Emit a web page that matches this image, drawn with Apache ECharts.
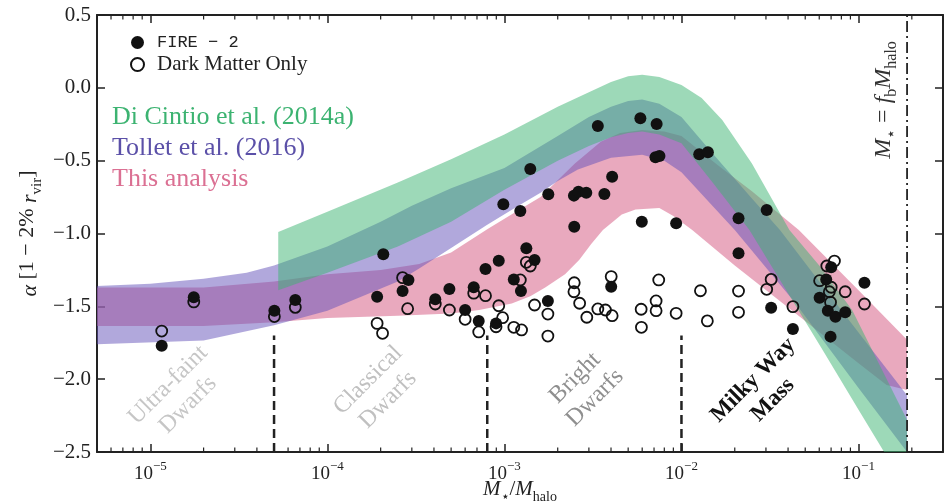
<!DOCTYPE html>
<html><head><meta charset="utf-8">
<script src="https://cdn.jsdelivr.net/npm/echarts@6.0.0/dist/echarts.min.js"></script>
<style>html,body{margin:0;padding:0;background:#fff}#c{width:949px;height:504px}</style>
</head><body><div id="c"></div>
<script>
// ---------- data ----------
const fire2 = [[1.16e-5,-1.77],[1.76e-5,-1.438],[5.02e-5,-1.53],[6.59e-5,-1.456],[2.07e-4,-1.143],[1.91e-4,-1.434],[2.87e-4,-1.319],[2.66e-4,-1.395],[4.07e-4,-1.452],[4.89e-4,-1.381],[6.0e-4,-1.525],[6.71e-4,-1.369],[7.82e-4,-1.244],[9.29e-4,-1.187],[7.16e-4,-1.60],[8.97e-4,-1.617],[1.33e-3,-1.102],[1.48e-3,-1.182],[1.13e-3,-1.315],[1.24e-3,-1.395],[1.76e-3,-1.463],[4.01e-3,-1.365],[9.86e-4,-0.80],[1.23e-3,-0.845],[1.40e-3,-0.557],[1.77e-3,-0.731],[2.47e-3,-0.74],[2.62e-3,-0.713],[2.90e-3,-0.72],[3.67e-3,-0.729],[4.06e-3,-0.61],[3.37e-3,-0.262],[5.86e-3,-0.209],[7.24e-3,-0.248],[7.13e-3,-0.477],[7.51e-3,-0.468],[2.48e-3,-0.953],[5.97e-3,-0.919],[9.33e-3,-0.93],[1.26e-2,-0.456],[1.41e-2,-0.443],[3.03e-2,-0.839],[2.10e-2,-0.896],[2.10e-2,-1.136],[3.21e-2,-1.509],[4.26e-2,-1.656],[7.01e-2,-1.232],[6.57e-2,-1.315],[0.108,-1.338],[6.03e-2,-1.441],[6.71e-2,-1.53],[7.41e-2,-1.571],[8.41e-2,-1.541],[6.95e-2,-1.708]];
const darkMatterOnly = [[1.16e-5,-1.67],[1.76e-5,-1.47],[5.02e-5,-1.57],[6.59e-5,-1.507],[1.91e-4,-1.617],[2.05e-4,-1.685],[2.66e-4,-1.303],[2.84e-4,-1.516],[4.07e-4,-1.484],[4.89e-4,-1.525],[6.0e-4,-1.589],[6.71e-4,-1.41],[7.82e-4,-1.427],[7.16e-4,-1.676],[8.97e-4,-1.64],[9.29e-4,-1.496],[9.77e-4,-1.578],[1.33e-3,-1.198],[1.40e-3,-1.223],[1.23e-3,-1.319],[1.13e-3,-1.644],[1.25e-3,-1.662],[1.48e-3,-1.491],[1.76e-3,-1.553],[1.76e-3,-1.704],[2.48e-3,-1.338],[2.47e-3,-1.40],[2.66e-3,-1.479],[2.92e-3,-1.575],[3.37e-3,-1.518],[3.72e-3,-1.525],[4.06e-3,-1.564],[4.01e-3,-1.296],[5.92e-3,-1.52],[5.94e-3,-1.644],[7.19e-3,-1.463],[7.19e-3,-1.53],[7.44e-3,-1.319],[9.33e-3,-1.548],[3.21e-2,-1.315],[3.03e-2,-1.383],[1.28e-2,-1.393],[2.10e-2,-1.395],[2.10e-2,-1.541],[1.40e-2,-1.60],[4.26e-2,-1.502],[6.62e-2,-1.223],[7.31e-2,-1.189],[6.03e-2,-1.324],[7.01e-2,-1.369],[6.84e-2,-1.40],[8.41e-2,-1.40],[0.108,-1.484],[6.95e-2,-1.472]];

const diCintioUpper = [[5.28e-5,-0.99],[1e-4,-0.85],[2.5e-4,-0.65],[5e-4,-0.49],[1e-3,-0.32],[2e-3,-0.13],[3e-3,-0.03],[4e-3,0.04],[5e-3,0.08],[6e-3,0.09],[7.5e-3,0.075],[1e-2,0.02],[1.3e-2,-0.07],[1.7e-2,-0.22],[2.5e-2,-0.52],[4.07e-2,-0.976],[6e-2,-1.22],[9.2e-2,-1.525],[0.188,-2.28]];
const diCintioLower = [[5.28e-5,-1.39],[1e-4,-1.27],[2.5e-4,-1.09],[5e-4,-0.92],[1e-3,-0.70],[2e-3,-0.50],[3e-3,-0.40],[4e-3,-0.34],[5e-3,-0.31],[6e-3,-0.30],[7.5e-3,-0.32],[1e-2,-0.38],[1.5e-2,-0.65],[2.42e-2,-0.976],[4e-2,-1.41],[6.27e-2,-1.80],[0.1,-2.21],[0.188,-2.76]];
const tolletUpper = [[5e-6,-1.36],[1e-5,-1.345],[2e-5,-1.31],[3.5e-5,-1.27],[5e-5,-1.22],[1e-4,-1.09],[2e-4,-0.92],[3e-4,-0.81],[5e-4,-0.69],[1e-3,-0.55],[2e-3,-0.33],[3e-3,-0.2],[4e-3,-0.13],[5e-3,-0.09],[6e-3,-0.08],[7.5e-3,-0.11],[1e-2,-0.20],[1.5e-2,-0.45],[2.5e-2,-0.76],[3.6e-2,-0.976],[6e-2,-1.33],[0.1,-1.68],[0.188,-2.11]];
const tolletLower = [[5e-6,-1.76],[2e-5,-1.735],[5e-5,-1.63],[1e-4,-1.53],[2.5e-4,-1.33],[3.3e-4,-1.24],[5e-4,-1.10],[8e-4,-0.94],[1.2e-3,-0.81],[1.6e-3,-0.72],[2e-3,-0.64],[2.6e-3,-0.56],[4e-3,-0.48],[6e-3,-0.46],[8e-3,-0.50],[1e-2,-0.58],[2e-2,-0.976],[4.35e-2,-1.47],[0.1,-2.06],[0.188,-2.5]];
const thisUpper = [[5e-6,-1.37],[2e-5,-1.37],[5e-5,-1.33],[1e-4,-1.28],[2e-4,-1.25],[3.3e-4,-1.21],[5e-4,-1.13],[8e-4,-0.97],[1.2e-3,-0.84],[1.6e-3,-0.75],[2.5e-3,-0.52],[3.5e-3,-0.37],[4.5e-3,-0.31],[6e-3,-0.29],[8e-3,-0.30],[1e-2,-0.33],[1.6e-2,-0.53],[2.5e-2,-0.71],[4.6e-2,-0.976],[0.1,-1.39],[0.188,-1.73]];
const thisLower = [[5e-6,-1.635],[2e-5,-1.635],[5e-5,-1.61],[1e-4,-1.58],[2.5e-4,-1.565],[5e-4,-1.55],[7.2e-4,-1.525],[1.1e-3,-1.48],[1.4e-3,-1.43],[1.7e-3,-1.37],[2.2e-3,-1.28],[2.65e-3,-1.18],[3.1e-3,-1.07],[3.6e-3,-0.976],[4.6e-3,-0.87],[5.5e-3,-0.835],[7.5e-3,-0.825],[9e-3,-0.88],[1.15e-2,-0.976],[2e-2,-1.22],[5e-2,-1.60],[0.1,-1.89],[0.144,-2.04],[0.188,-2.075]];

const regionBounds = [5e-5, 8e-4, 1e-2];
const regionBoundTop = -1.7;
const baryonFraction = 0.188;
const xRange = [5e-6, 0.3];
const yTicks = [-2.5, -2.0, -1.5, -1.0, -0.5, 0.0, 0.5];
const regionLabels = ['Ultra-faint\nDwarfs', 'Classical\nDwarfs', 'Bright\nDwarfs', 'Milky Way\nMass'];

// ---------- helpers ----------
const SERIF = "'Liberation Serif','DejaVu Serif',serif";
const INK = '#222';
const minorTicks = [];
for (let e = -6; e <= -1; e++) for (let m = 2; m <= 9; m++) {
  const v = m * Math.pow(10, e);
  if (v > xRange[0] && v < xRange[1]) minorTicks.push([v, -2.5]);
}
function band(name, upper, lower, fill, z) {
  return {
    type: 'custom', name, z, clip: true, silent: true,
    data: [upper[0]],
    renderItem: (params, api) => {
      const pts = upper.map(p => api.coord(p)).concat(lower.slice().reverse().map(p => api.coord(p)));
      return { type: 'polygon', shape: { points: pts }, style: { fill: fill, stroke: null } };
    }
  };
}
const supRich = {
  b: { fontFamily: SERIF, fontSize: 19, color: INK, lineHeight: 24, verticalAlign: 'bottom' },
  s: { fontFamily: SERIF, fontSize: 13, color: INK, lineHeight: 24, verticalAlign: 'top', padding: [0,0,9,0] }
};

const chart = echarts.init(document.getElementById('c'), null, { renderer: 'canvas' });
const option = {
  animation: false,
  backgroundColor: '#fff',
  grid: { left: 97, right: 6, top: 15, bottom: 52, outerBoundsMode: 'none' },
  legend: {
    left: 125, top: 29, orient: 'vertical', itemGap: 3, itemWidth: 13, itemHeight: 13,
    data: ['FIRE − 2', 'Dark Matter Only'],
    formatter: n => n === 'FIRE − 2' ? '{m|FIRE − 2}' : '{s|Dark Matter Only}',
    textStyle: { padding: [0,0,0,8], rich: {
      m: { fontFamily: "'Liberation Mono','DejaVu Sans Mono',monospace", fontSize: 17, color: INK, lineHeight: 25 },
      s: { fontFamily: SERIF, fontSize: 21, color: INK, lineHeight: 25 }
    } }
  },
  xAxis: [{
    type: 'log', logBase: 10, min: xRange[0], max: xRange[1], position: 'bottom',
    name: '{i|M}{sub|⋆}{n|/}{i|M}{sub|halo}', nameLocation: 'middle', nameGap: 22, nameMoveOverlap: false,
    nameTextStyle: { rich: {
      i: { fontFamily: SERIF, fontStyle: 'italic', fontSize: 21, color: INK, lineHeight: 26, verticalAlign: 'bottom' },
      n: { fontFamily: SERIF, fontSize: 21, color: INK, lineHeight: 26, verticalAlign: 'bottom' },
      sub: { fontFamily: SERIF, fontSize: 14, color: INK, lineHeight: 26, verticalAlign: 'bottom', padding: [0,0,-4,0] }
    } },
    axisLine: { show: true, onZero: false, lineStyle: { color: INK, width: 2 } },
    axisTick: { show: true, inside: true, length: 8, lineStyle: { color: INK, width: 1.5 } },
    splitLine: { show: false },
    axisLabel: {
      margin: 8, hideOverlap: false,
      formatter: v => { const l = Math.log10(v), e = Math.round(l); return Math.abs(l - e) > 1e-6 ? '' : '{b|10}{s|−' + (-e) + '}'; },
      rich: supRich
    }
  }, {
    type: 'log', logBase: 10, min: xRange[0], max: xRange[1], position: 'top',
    axisLine: { show: true, onZero: false, lineStyle: { color: INK, width: 2 } },
    axisTick: { show: true, inside: true, length: 8, lineStyle: { color: INK, width: 1.5 } },
    axisLabel: { show: false }, splitLine: { show: false }
  }],
  yAxis: [{
    type: 'value', min: yTicks[0], max: yTicks[yTicks.length-1], interval: 0.5, position: 'left',
    name: '{i|α} [1 − 2% {i|r}{sub|vir}]', nameLocation: 'middle', nameGap: 56, nameRotate: 90, nameMoveOverlap: false,
    nameTextStyle: { fontFamily: SERIF, fontSize: 22, color: INK, rich: {
      i: { fontFamily: SERIF, fontStyle: 'italic', fontSize: 22, color: INK, lineHeight: 28, verticalAlign: 'bottom' },
      sub: { fontFamily: SERIF, fontSize: 15, color: INK, lineHeight: 28, verticalAlign: 'bottom', padding: [0,0,-4,0] }
    } },
    axisLine: { show: true, onZero: false, lineStyle: { color: INK, width: 2 } },
    axisTick: { show: true, inside: true, length: 8, lineStyle: { color: INK, width: 1.5 } },
    splitLine: { show: false },
    axisLabel: { margin: 6, fontFamily: SERIF, fontSize: 21, color: INK, formatter: v => v.toFixed(1).replace('-', '−') }
  }, {
    type: 'value', min: yTicks[0], max: yTicks[yTicks.length-1], interval: 0.5, position: 'right',
    axisLine: { show: true, onZero: false, lineStyle: { color: INK, width: 2 } },
    axisTick: { show: true, inside: true, length: 8, lineStyle: { color: INK, width: 1.5 } },
    axisLabel: { show: false }, splitLine: { show: false }
  }],
  series: [
    band('This analysis', thisUpper, thisLower, 'rgba(219,112,147,0.6)', 1),
    band('Tollet et al. (2016)', tolletUpper, tolletLower, 'rgba(100,82,185,0.5)', 2),
    band('Di Cintio et al. (2014a)', diCintioUpper, diCintioLower, 'rgba(60,179,113,0.5)', 3),
    {
      type: 'custom', name: 'minor ticks', z: 4, silent: true, data: minorTicks,
      renderItem: (params, api) => {
        const b = api.coord([api.value(0), yTicks[0]]);
        const t = api.coord([api.value(0), yTicks[yTicks.length-1]]);
        const st = { stroke: INK, lineWidth: 1.2 };
        return { type: 'group', children: [
          { type: 'line', shape: { x1: b[0], y1: b[1], x2: b[0], y2: b[1] - 4.5 }, style: st },
          { type: 'line', shape: { x1: t[0], y1: t[1], x2: t[0], y2: t[1] + 4.5 }, style: st }
        ] };
      }
    },
    {
      type: 'custom', name: 'region bounds', z: 4, silent: true,
      data: regionBounds.map(x => [x, regionBoundTop]),
      renderItem: (params, api) => {
        const b = api.coord([api.value(0), yTicks[0]]);
        const t = api.coord([api.value(0), api.value(1)]);
        return { type: 'line', shape: { x1: b[0], y1: b[1], x2: t[0], y2: t[1] }, style: { stroke: INK, lineWidth: 2.5, lineDash: [9, 5] } };
      }
    },
    {
      type: 'custom', name: 'fb line', z: 4, silent: true,
      data: [[baryonFraction, yTicks[yTicks.length-1]]],
      renderItem: (params, api) => {
        const b = api.coord([api.value(0), yTicks[0]]);
        const t = api.coord([api.value(0), api.value(1)]);
        return { type: 'line', shape: { x1: b[0], y1: b[1], x2: t[0], y2: t[1] }, style: { stroke: INK, lineWidth: 1.8, lineDash: [11, 4, 2, 4] } };
      }
    },
    {
      type: 'scatter', name: 'FIRE − 2', z: 5, data: fire2, symbol: 'circle', symbolSize: 12,
      itemStyle: { color: '#111', opacity: 1 }
    },
    {
      type: 'scatter', name: 'Dark Matter Only', z: 6, data: darkMatterOnly, symbol: 'circle', symbolSize: 11,
      itemStyle: { color: 'rgba(0,0,0,0)', borderColor: '#111', borderWidth: 1.8, opacity: 1 }
    }
  ],
  graphic: [
    { type: 'text', left: 112, top: 104, style: { text: 'Di Cintio et al. (2014a)', fill: '#3cb371', font: "26px " + SERIF } },
    { type: 'text', left: 112, top: 135, style: { text: 'Tollet et al. (2016)', fill: '#5b50a8', font: "26px " + SERIF } },
    { type: 'text', left: 112, top: 166, style: { text: 'This analysis', fill: '#db7093', font: "26px " + SERIF } },
    { type: 'text', x: 178, y: 395, rotation: Math.PI/4, style: { text: regionLabels[0], fill: '#c6c6c6', font: "24px " + SERIF, align: 'center', verticalAlign: 'middle', lineHeight: 28 } },
    { type: 'text', x: 378, y: 390, rotation: Math.PI/4, style: { text: regionLabels[1], fill: '#c0c0c0', font: "24px " + SERIF, align: 'center', verticalAlign: 'middle', lineHeight: 28 } },
    { type: 'text', x: 585, y: 388, rotation: Math.PI/4, style: { text: regionLabels[2], fill: '#8f8f8f', font: "24px " + SERIF, align: 'center', verticalAlign: 'middle', lineHeight: 28 } },
    { type: 'text', x: 763, y: 390, rotation: Math.PI/4, style: { text: regionLabels[3], fill: '#111', font: "bold 23px " + SERIF, align: 'center', verticalAlign: 'middle', lineHeight: 28 } },
    { type: 'text', x: 882, y: 100, rotation: Math.PI/2, style: {
      text: '{i|M}{sub|⋆}{n| = }{i|f}{sub|b}{i|M}{sub|halo}', align: 'center', verticalAlign: 'middle',
      rich: {
        i: { fontFamily: SERIF, fontStyle: 'italic', fontSize: 24, fill: '#333', lineHeight: 28, verticalAlign: 'bottom' },
        n: { fontFamily: SERIF, fontSize: 24, fill: '#333', lineHeight: 28, verticalAlign: 'bottom' },
        sub: { fontFamily: SERIF, fontSize: 16, fill: '#333', lineHeight: 28, verticalAlign: 'bottom', padding: [0,0,-4,0] }
      } } }
  ]
};
chart.setOption(option);
</script></body></html>
